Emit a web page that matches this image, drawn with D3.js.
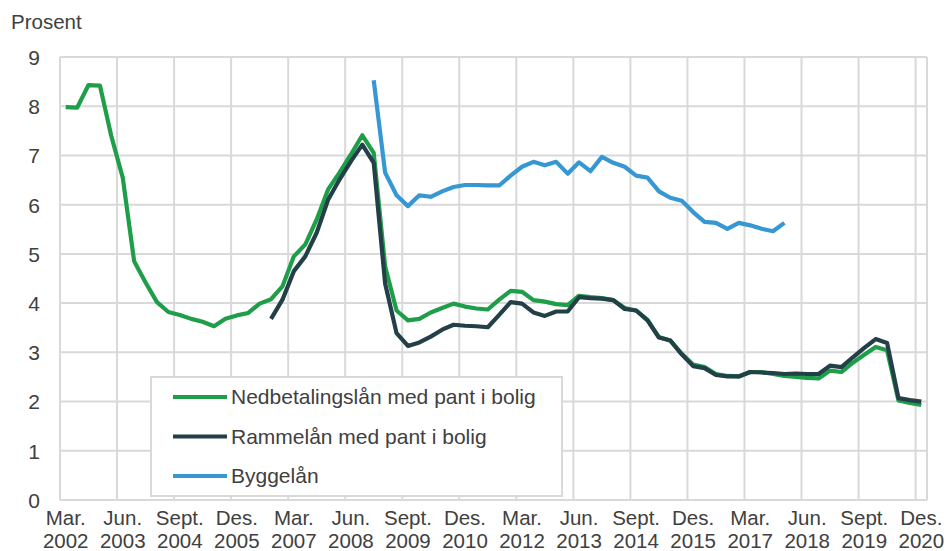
<!DOCTYPE html>
<html>
<head>
<meta charset="utf-8">
<script src="https://cdn.jsdelivr.net/npm/d3@7"></script>
<style>
  body { margin: 0; background: #fff; }
  svg text { font-family: Arial, "Liberation Sans", sans-serif; fill: #404040; }
</style>
</head>
<body>
<div id="chart"></div>
<script>
'use strict';

// Quarterly categories, Mar. 2002 - Des. 2020
var years = d3.range(2002, 2021)
var months = ['Mar.', 'Jun.', 'Sept.', 'Des.']
var quarters = []
years.forEach(function(y){
  months.forEach(function(m){ quarters.push(m + ' ' + y) })
})

// Labelled quarters (every fifth)
var tickLabels = ['Mar. 2002', 'Jun. 2003', 'Sept. 2004', 'Des. 2005', 'Mar. 2007', 'Jun. 2008',
  'Sept. 2009', 'Des. 2010', 'Mar. 2012', 'Jun. 2013', 'Sept. 2014', 'Des. 2015',
  'Mar. 2017', 'Jun. 2018', 'Sept. 2019', 'Des. 2020']

var yTicks = [0, 1, 2, 3, 4, 5, 6, 7, 8, 9]

// Nedbetalingslån med pant i bolig, from Mar. 2002
var nedbetaling = [7.98, 7.97, 8.43, 8.42, 7.39, 6.55, 4.85, 4.42, 4.02, 3.82,
  3.76, 3.68, 3.62, 3.53, 3.68, 3.75, 3.80, 3.99, 4.08, 4.34,
  4.95, 5.19, 5.70, 6.31, 6.65, 7.02, 7.41, 7.05, 4.75, 3.85,
  3.65, 3.68, 3.81, 3.90, 3.99, 3.93, 3.89, 3.87, 4.07, 4.25,
  4.23, 4.06, 4.03, 3.98, 3.96, 4.15, 4.12, 4.10, 4.06, 3.90,
  3.85, 3.66, 3.31, 3.24, 2.97, 2.75, 2.70, 2.56, 2.52, 2.51,
  2.60, 2.60, 2.56, 2.52, 2.50, 2.48, 2.47, 2.63, 2.60, 2.79,
  2.95, 3.11, 3.04, 2.02, 1.97, 1.93]

// Rammelån med pant i bolig, from Sept. 2006
var rammelanStart = 18
var rammelan = [3.68, 4.07, 4.65, 4.95, 5.43, 6.10, 6.51, 6.88, 7.22, 6.85,
  4.40, 3.39, 3.13, 3.20, 3.32, 3.46, 3.56, 3.54, 3.53, 3.51,
  3.76, 4.02, 3.99, 3.81, 3.74, 3.83, 3.83, 4.12, 4.10, 4.09,
  4.06, 3.88, 3.85, 3.65, 3.30, 3.24, 2.96, 2.72, 2.68, 2.54,
  2.51, 2.51, 2.60, 2.59, 2.58, 2.56, 2.57, 2.56, 2.56, 2.73,
  2.70, 2.90, 3.09, 3.27, 3.19, 2.07, 2.03, 2.00]

// Byggelån, from Des. 2008
var byggelanStart = 27
var byggelan = [8.53, 6.65, 6.19, 5.97, 6.19, 6.16, 6.27, 6.36, 6.40, 6.40,
  6.39, 6.39, 6.59, 6.77, 6.87, 6.80, 6.87, 6.63, 6.86, 6.68,
  6.97, 6.85, 6.77, 6.59, 6.55, 6.27, 6.14, 6.08, 5.85, 5.65,
  5.63, 5.51, 5.63, 5.58, 5.51, 5.46, 5.63]

var series = [
  {name: 'Nedbetalingslån med pant i bolig', color: '#1f9e4a', start: 0, values: nedbetaling},
  {name: 'Rammelån med pant i bolig', color: '#233f47', start: rammelanStart, values: rammelan},
  {name: 'Byggelån', color: '#3797d3', start: byggelanStart, values: byggelan}
]

var W = 947, H = 551
var margin = {top: 57, right: 20, bottom: 51, left: 60}
var width = W - margin.left - margin.right
var height = H - margin.top - margin.bottom

var svg = d3.select('#chart').append('svg')
  .attr('width', W)
  .attr('height', H)

var g = svg.append('g')
  .attr('transform', 'translate(' + margin.left + ',' + margin.top + ')')

var x = d3.scaleBand()
  .domain(quarters)
  .range([0, width])
  .padding(0)

var y = d3.scaleLinear()
  .domain([0, 9])
  .range([height, 0])

var grid = '#d9d9d9'

// Horizontal gridlines
g.selectAll('.hgrid')
  .data(yTicks)
  .enter().append('line')
    .attr('x1', 0)
    .attr('x2', width)
    .attr('y1', function(d){ return y(d) })
    .attr('y2', function(d){ return y(d) })
    .attr('stroke', grid)
    .attr('stroke-width', 2)

// Vertical gridlines at the start of each labelled quarter
g.selectAll('.vgrid')
  .data(tickLabels)
  .enter().append('line')
    .attr('x1', function(d){ return x(d) })
    .attr('x2', function(d){ return x(d) })
    .attr('y1', 0)
    .attr('y2', height)
    .attr('stroke', grid)
    .attr('stroke-width', 2)

// Right border of plot area
g.append('line')
  .attr('x1', width).attr('x2', width)
  .attr('y1', 0).attr('y2', height)
  .attr('stroke', grid)
  .attr('stroke-width', 2)

// Y axis
var yAxis = d3.axisLeft(y)
  .tickValues(yTicks)
  .tickSize(0)
  .tickPadding(20)
var ya = g.append('g').call(yAxis)
ya.select('.domain').remove()
ya.selectAll('text')
  .attr('font-size', 21)
  .attr('font-family', 'Arial, "Liberation Sans", sans-serif')
  .attr('fill', '#404040')
  .attr('dy', '0.35em')

// X axis, two-line labels
var xAxis = d3.axisBottom(x)
  .tickValues(tickLabels)
  .tickSize(0)
  .tickPadding(0)
var xa = g.append('g')
  .attr('transform', 'translate(0,' + height + ')')
  .call(xAxis)
xa.select('.domain').remove()
xa.selectAll('text')
  .attr('font-size', 20.5)
  .attr('font-family', 'Arial, "Liberation Sans", sans-serif')
  .attr('fill', '#404040')
  .attr('y', 0)
  .attr('dy', null)
  .each(function(d){
    var parts = d.split(' ')
    var t = d3.select(this).text(null)
    t.append('tspan').attr('x', 0).attr('y', 25).text(parts[0])
    t.append('tspan').attr('x', 0).attr('y', 47.5).text(parts[1])
  })

// Lines
var line = d3.line()
  .x(function(d){ return x(quarters[d.i]) + x.bandwidth() / 2 })
  .y(function(d){ return y(d.v) })

series.forEach(function(s){
  var pts = s.values.map(function(v, k){ return {i: s.start + k, v: v} })
  g.append('path')
    .datum(pts)
    .attr('fill', 'none')
    .attr('stroke', s.color)
    .attr('stroke-width', 4.2)
    .attr('stroke-linejoin', 'round')
    .attr('d', line)
})

// Y axis title
svg.append('text')
  .attr('x', 11)
  .attr('y', 29)
  .attr('font-size', 20.5)
  .attr('fill', '#404040')
  .text('Prosent')

// Legend
var legend = svg.append('g').attr('transform', 'translate(151,377)')
legend.append('rect')
  .attr('width', 411)
  .attr('height', 119)
  .attr('fill', '#fff')
  .attr('stroke', grid)
  .attr('stroke-width', 2)

series.forEach(function(s, k){
  var ly = 20 + k * 39.5
  legend.append('line')
    .attr('x1', 22).attr('x2', 76)
    .attr('y1', ly).attr('y2', ly)
    .attr('stroke', s.color)
    .attr('stroke-width', 4.2)
  legend.append('text')
    .attr('x', 80)
    .attr('y', ly)
    .attr('dy', '0.35em')
    .attr('font-size', 21)
    .attr('fill', '#404040')
    .text(s.name)
})
</script>
</body>
</html>
